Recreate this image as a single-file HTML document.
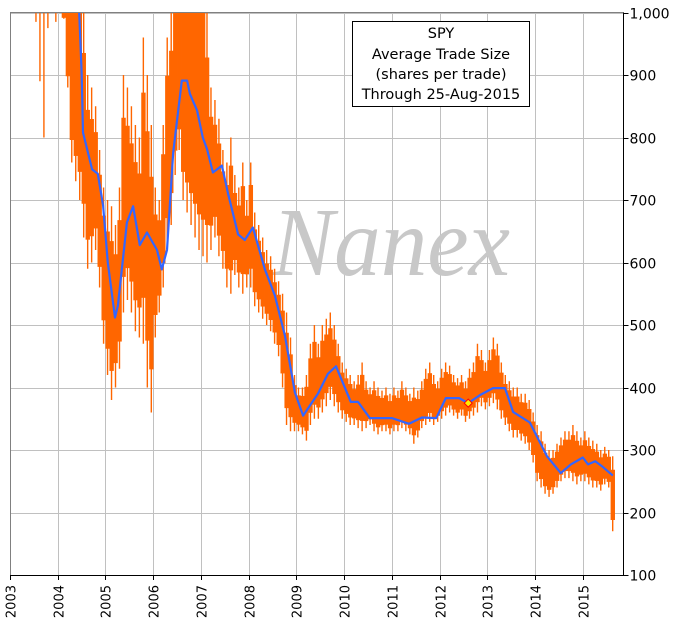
<!DOCTYPE html>
<html><head><meta charset="utf-8"><style>
html,body{margin:0;padding:0;background:#fff;}
svg{display:block;font-family:"DejaVu Sans","Liberation Sans",sans-serif;}
</style></head><body>
<svg id="chart" width="676" height="633" viewBox="0 0 676 633" xmlns="http://www.w3.org/2000/svg">
<g id="grid"></g>
<text x="272" y="275" font-family="Liberation Serif, serif" font-style="italic" font-size="98" fill="#c8c8c8" textLength="238" lengthAdjust="spacingAndGlyphs">Nanex</text>
<g id="orange"></g>
<path id="blue" fill="none" stroke="#3366ff" stroke-width="2.2" stroke-linejoin="round"></path>
<g id="axes"></g>
<g>
<rect x="352.5" y="21.5" width="177" height="85" fill="#fff" stroke="#000" stroke-width="1"/>
<text x="441" y="38" text-anchor="middle" font-size="14.5" fill="#000">SPY</text>
<text x="441" y="59" text-anchor="middle" font-size="14.5" fill="#000">Average Trade Size</text>
<text x="441" y="79" text-anchor="middle" font-size="14.5" fill="#000">(shares per trade)</text>
<text x="441" y="99" text-anchor="middle" font-size="14.5" fill="#000">Through 25-Aug-2015</text>
</g>
</svg>
<script>
const yTicks=[100,200,300,400,500,600,700,800,900,1000];
const yTickLabels=["100","200","300","400","500","600","700","800","900","1,000"];
const xYears=[2003,2004,2005,2006,2007,2008,2009,2010,2011,2012,2013,2014,2015];
const startMonth=2003.5;
const lows=[985,890,800,975,1050,985,
1050,990,880,760,730,700,640,590,600,620,560,470,
420,380,400,430,520,540,520,490,480,470,400,360,
480,520,560,620,660,740,780,700,680,660,640,620,
610,600,620,640,610,590,560,550,580,560,550,560,
560,530,520,510,500,490,470,450,400,340,330,330,
330,325,315,340,350,350,360,370,380,370,360,350,
345,340,340,335,330,335,340,330,325,330,330,325,
330,330,335,330,325,310,320,335,340,345,340,345,
350,355,360,355,350,355,345,350,355,360,370,365,
370,375,365,350,340,330,320,320,315,310,300,280,
250,240,230,225,230,240,250,255,255,250,245,250,
250,245,240,240,235,245,240,170];
const highs=[1100,1100,1100,1100,1100,1100,
1100,1100,1100,1100,1100,1100,1000,900,880,850,780,720,
700,690,660,720,900,880,850,820,800,960,900,820,
720,700,820,960,1000,1100,1100,1100,1100,1100,1100,1050,
1050,1000,880,860,830,780,760,800,740,720,760,700,
760,680,660,640,620,610,590,570,550,520,480,420,
400,400,420,470,500,470,500,510,520,500,470,440,
430,420,410,420,440,410,400,410,400,395,400,390,
400,395,410,400,390,400,395,410,430,440,420,410,
430,440,435,420,415,420,410,430,440,470,460,440,
460,480,470,440,420,410,400,400,390,390,380,360,
340,330,310,300,300,310,320,330,330,340,330,320,
330,320,315,310,300,305,300,290];
const maDates=[2004.45,2004.5,2004.53,2004.72,2004.84,2004.95,2005.05,2005.2,2005.26,2005.45,2005.58,2005.72,2005.87,2006.08,2006.18,2006.29,2006.42,2006.6,2006.71,2006.77,2006.92,2007.04,2007.13,2007.25,2007.44,2007.57,2007.78,2007.92,2008.09,2008.34,2008.55,2008.76,2008.97,2009.14,2009.45,2009.66,2009.83,2010.14,2010.29,2010.54,2011.0,2011.36,2011.63,2011.93,2012.13,2012.41,2012.6,2012.85,2013.12,2013.37,2013.54,2013.89,2014.25,2014.54,2014.75,2015.0,2015.11,2015.26,2015.42,2015.63];
const maValues=[1000,905,808,749,742,691,600,512,531,664,690,628,648,620,589,620,776,891,891,870,843,800,781,744,755,710,645,636,656,589,547,483,392,355,390,422,434,377,377,351,351,342,352,351,383,383,375,388,399,399,361,344,290,263,277,288,277,282,273,259];

const NS="http://www.w3.org/2000/svg";
const X0=10,YW=47.73,XR=623.5,YT=12.5,YB=575;
function xs(yr){return X0+(yr-2003)*YW;}
function ys(v){return YT+(1000-v)*0.625;}
function mk(tag,attrs,parent){const e=document.createElementNS(NS,tag);for(const k in attrs)e.setAttribute(k,attrs[k]);parent.appendChild(e);return e;}
const grid=document.getElementById('grid'),axes=document.getElementById('axes'),org=document.getElementById('orange');
yTicks.forEach((v,i)=>{
  const y=Math.round(ys(v))+0.5;
  const g=mk('line',{x1:X0,x2:XR,y1:y,y2:y,stroke:'#c0c0c0','stroke-width':1},grid);
  
  
  const t=mk('line',{x1:XR,x2:XR+5,y1:y,y2:y,stroke:'#000','stroke-width':1},axes);
  
  
  const l=mk('text',{x:XR+6,y:y+5,'font-size':14,fill:'#000'},axes);
  l.textContent=yTickLabels[i];
  
  
});
xYears.forEach(yr=>{
  const x=Math.round(xs(yr))+0.5;
  const g=mk('line',{x1:x,x2:x,y1:YT,y2:YB,stroke:'#c0c0c0','stroke-width':1},grid);
  
  
  const t=mk('line',{x1:x,x2:x,y1:YB,y2:YB+5,stroke:'#000','stroke-width':1},axes);
  
  
  const l=mk('text',{x:0,y:0,'font-size':13,fill:'#000','text-anchor':'end',transform:'translate('+(x+5)+','+(YB+10)+') rotate(-90)'},axes);
  l.textContent=String(yr);
  
  
});
mk('line',{x1:X0,x2:XR,y1:YT,y2:YT,stroke:'#808080','stroke-width':1},axes);
mk('line',{x1:X0+0.5,x2:X0+0.5,y1:YT,y2:YB,stroke:'#808080','stroke-width':1},axes);
mk('line',{x1:X0,x2:XR,y1:YB+0.5,y2:YB+0.5,stroke:'#000','stroke-width':1},axes);
mk('line',{x1:XR,x2:XR,y1:YT,y2:YB,stroke:'#000','stroke-width':1},axes);
const mw=YW/12;
lows.forEach((lo,i)=>{
  const d=startMonth+i/12;
  const hi=Math.min(highs[i],1000);
  const lv=Math.min(lo,1000);
  if(lv>=1000)return;
  const x=xs(d);
  const s=mk('rect',{x:x+mw*0.35,y:ys(hi),width:1.4,height:Math.max(1,ys(lv)-ys(hi)),fill:'#ff6600'},org);
  
  
  const span=hi-lv;
  if(i>=6){
    const cHi=highs[i]>1000?1000:hi-span*0.18, cLo=lv+span*0.15;
    const r=mk('rect',{x:x,y:ys(cHi),width:mw+0.4,height:Math.max(1,ys(cLo)-ys(cHi)),fill:'#ff6600'},org);
    
    
  }
});
let p='';
maDates.forEach((d,i)=>{p+=(i?'L':'M')+xs(d).toFixed(1)+' '+ys(Math.min(maValues[i],1000)).toFixed(1);});
document.getElementById('blue').setAttribute('d',p);
const mkr=mk('path',{d:'M'+xs(2012.6)+' '+(ys(375)-4)+' l4 4 l-4 4 l-4 -4 z',fill:'#ffee00',stroke:'#ff0000','stroke-width':1},document.getElementById('chart'));


</script>
</body></html>
